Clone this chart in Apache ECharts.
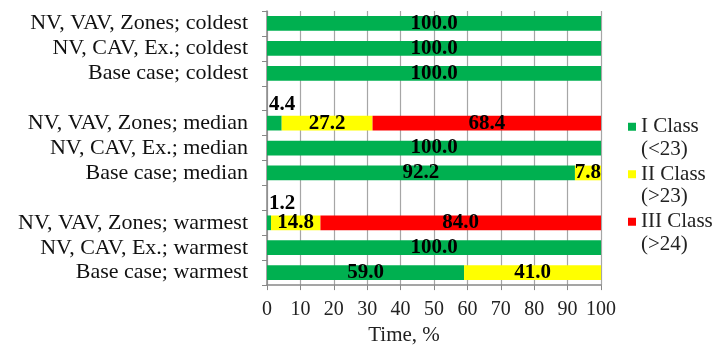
<!DOCTYPE html>
<html><head><meta charset="utf-8">
<script src="https://cdn.jsdelivr.net/npm/echarts@6/dist/echarts.min.js"></script>
<style>html,body{margin:0;padding:0;background:#fff}#c{width:714px;height:351px}</style>
</head><body><div id="c"></div>
<script>
const categories = ['NV, VAV, Zones; coldest','NV, CAV, Ex.; coldest','Base case; coldest','',
  'NV, VAV, Zones; median','NV, CAV, Ex.; median','Base case; median','',
  'NV, VAV, Zones; warmest','NV, CAV, Ex.; warmest','Base case; warmest'];
const classI   = [100,100,100,'-',4.4,100,92.2,'-',1.2,100,59.0];
const classII  = [0,0,0,'-',27.2,0,7.8,'-',14.8,0,41.0];
const classIII = [0,0,0,'-',68.4,0,0,'-',84.0,0,0];
const seriesNames = ['I Class\n(<23)','II Class\n(>23)','III Class\n(>24)'];
const xTicks = [0,10,20,30,40,50,60,70,80,90,100];

const FONT = '"Liberation Serif","Times New Roman",serif';
const colors = ['#00B050','#FFFF00','#FF0000'];
const smallThreshold = 5;

function mkData(arr){
  return arr.map(v => {
    if (v === '-') return '-';
    if (typeof v === 'number' && v > 0 && v < smallThreshold) {
      return {value: v, label: {position: [2, -1], align: 'left', verticalAlign: 'bottom'}};
    }
    return v;
  });
}
function mkSeries(name, arr, color){
  return {
    name: name, type: 'bar', stack: 'all', data: mkData(arr), barWidth: '59%',
    itemStyle: {color: color},
    label: {show: true, position: 'inside', color: '#000', fontFamily: FONT, fontSize: 21, fontWeight: 'bold',
      formatter: p => (typeof p.value === 'number' && p.value > 0) ? p.value.toFixed(1) : ''},
    emphasis: {disabled: true}
  };
}
const chart = echarts.init(document.getElementById('c'), null, {renderer: 'canvas'});
chart.setOption({
  animation: false,
  grid: {left: 267, right: 113, top: 11, bottom: 59, containLabel: false},
  legend: {
    orient: 'vertical', left: 628, top: 93, padding: 0, itemWidth: 8, itemHeight: 8, itemGap: -20,
    icon: 'rect', data: seriesNames,
    formatter: name => '\n' + name,
    textStyle: {fontFamily: FONT, fontSize: 21, color: '#222', lineHeight: 22.5}
  },
  xAxis: {
    type: 'value', min: 0, max: 100, interval: 10,
    name: 'Time, %', nameLocation: 'middle', nameGap: 39,
    nameTextStyle: {fontFamily: FONT, fontSize: 21, color: '#222', padding: [0, 60, 0, 0]},
    axisLine: {show: true, lineStyle: {color: '#888', width: 1.5}},
    axisTick: {show: true, length: 5, lineStyle: {color: '#888'}},
    axisLabel: {fontFamily: FONT, fontSize: 20, color: '#222', margin: 15,
      formatter: v => xTicks.includes(v) ? String(v) : ''},
    splitLine: {show: true, lineStyle: {color: '#a6a6a6', width: 1.2}}
  },
  yAxis: {
    type: 'category', data: categories, inverse: true,
    axisLine: {show: true, lineStyle: {color: '#888', width: 1.5}},
    axisTick: {show: true, length: 5, lineStyle: {color: '#888'}},
    axisLabel: {fontFamily: FONT, fontSize: 22, color: '#111', margin: 19, interval: 0},
    splitLine: {show: false}
  },
  series: [
    mkSeries(seriesNames[0], classI, colors[0]),
    mkSeries(seriesNames[1], classII, colors[1]),
    mkSeries(seriesNames[2], classIII, colors[2])
  ]
});
</script></body></html>
